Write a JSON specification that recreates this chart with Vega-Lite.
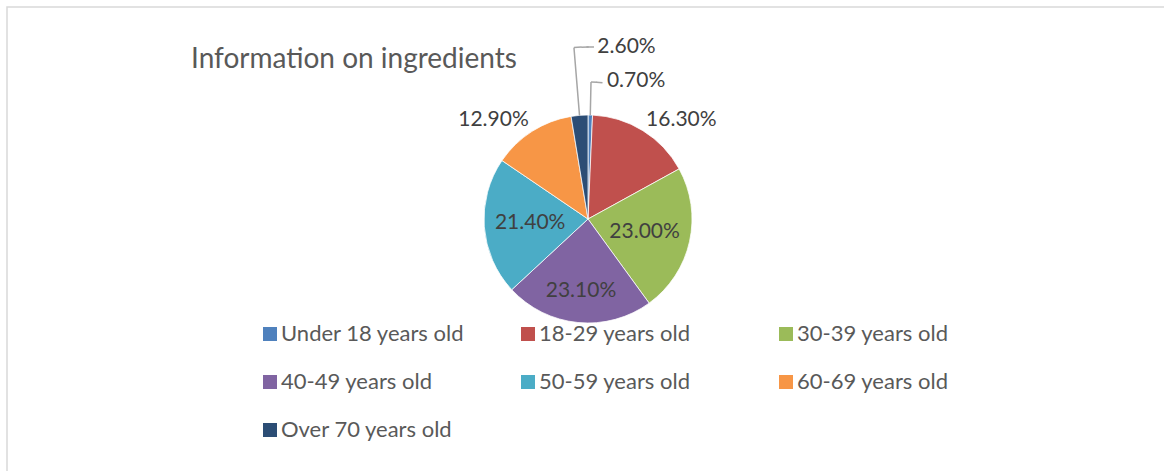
{
  "$schema": "https://vega.github.io/schema/vega-lite/v6.json",
  "width": 1170,
  "height": 480,
  "autosize": {"type": "none"},
  "padding": {"left": 7, "top": 7, "right": 0, "bottom": 0},
  "background": "white",
  "view": {"stroke": "#d9d9d9", "strokeWidth": 1.5, "fill": "white"},
  "config": {
    "view": {"stroke": "#d9d9d9", "strokeWidth": 1.5},
    "font": "Lato",
    "text": {"font": "Lato", "fontSize": 21, "color": "#404040"}
  },
  "title": {
    "text": "Information on ingredients",
    "anchor": "start",
    "frame": "group",
    "orient": "top",
    "offset": 0,
    "dx": 184,
    "dy": 89,
    "baseline": "alphabetic",
    "font": "Lato",
    "fontSize": 28,
    "fontWeight": "normal",
    "color": "#595959"
  },
  "data": {
    "values": [
      {"group": "Under 18 years old", "value": 0.007, "idx": 1},
      {"group": "18-29 years old", "value": 0.163, "idx": 2},
      {"group": "30-39 years old", "value": 0.23, "idx": 3},
      {"group": "40-49 years old", "value": 0.231, "idx": 4},
      {"group": "50-59 years old", "value": 0.214, "idx": 5},
      {"group": "60-69 years old", "value": 0.129, "idx": 6},
      {"group": "Over 70 years old", "value": 0.026, "idx": 7}
    ]
  },
  "encoding": {
    "theta": {"field": "value", "type": "quantitative", "stack": true},
    "order": {"field": "idx", "type": "quantitative"}
  },
  "layer": [
    {
      "mark": {"type": "arc", "outerRadius": 104, "x": 581, "y": 212, "stroke": "white", "strokeWidth": 0.75},
      "encoding": {
        "color": {
          "field": "group",
          "type": "nominal",
          "scale": {
            "domain": ["Under 18 years old", "18-29 years old", "30-39 years old", "40-49 years old", "50-59 years old", "60-69 years old", "Over 70 years old"],
            "range": ["#4F81BD", "#C0504D", "#9BBB59", "#8064A2", "#4BACC6", "#F79646", "#2C4D75"]
          },
          "legend": {
            "title": null,
            "orient": "none",
            "legendX": 252,
            "legendY": 316,
            "direction": "horizontal",
            "columns": 3,
            "gridAlign": "all",
            "columnPadding": 52,
            "rowPadding": 26,
            "padding": 0,
            "symbolType": "square",
            "symbolSize": 196,
            "symbolStrokeWidth": 0,
            "labelOffset": 0,
            "labelFont": "Lato",
            "labelFontSize": 22,
            "labelColor": "#595959",
            "labelLimit": 400
          }
        }
      }
    },
    {
      "transform": [{"stack": "value", "groupby": [], "sort": [{"field": "idx"}], "as": ["s0", "s1"]}],
      "mark": {"type": "arc", "x": 581, "y": 212, "innerRadius": 104, "outerRadius": 172, "thetaOffset": -0.0817, "theta2Offset": -0.0817, "fillOpacity": 0, "stroke": "#a6a6a6", "strokeWidth": 1.5},
      "encoding": {
        "theta": {"field": "s1", "type": "quantitative", "stack": null},
        "theta2": {"field": "s1"},
        "opacity": {"condition": {"test": "datum.group == 'Over 70 years old'", "value": 1}, "value": 0}
      }
    },
    {
      "transform": [{"stack": "value", "groupby": [], "sort": [{"field": "idx"}], "as": ["s0", "s1"]}],
      "mark": {"type": "arc", "x": 581, "y": 212, "innerRadius": 104, "outerRadius": 137, "thetaOffset": -0.022, "theta2Offset": -0.022, "fillOpacity": 0, "stroke": "#a6a6a6", "strokeWidth": 1.5},
      "encoding": {
        "theta": {"field": "s1", "type": "quantitative", "stack": null},
        "theta2": {"field": "s1"},
        "opacity": {"condition": {"test": "datum.group == 'Under 18 years old'", "value": 1}, "value": 0}
      }
    },
    {
      "mark": {"type": "arc", "x": 581, "y": 212, "innerRadius": 137, "outerRadius": 137, "thetaOffset": 0.022, "theta2Offset": 0.022, "fillOpacity": 0, "stroke": "#a6a6a6", "strokeWidth": 1.5},
      "encoding": {
        "opacity": {"condition": {"test": "datum.group == 'Under 18 years old'", "value": 1}, "value": 0}
      }
    },
    {
      "mark": {"type": "arc", "x": 581, "y": 212, "innerRadius": 137, "outerRadius": 137, "thetaOffset": 0.062, "theta2Offset": 0.062, "fillOpacity": 0, "stroke": "#a6a6a6", "strokeWidth": 1.5},
      "encoding": {
        "opacity": {"condition": {"test": "datum.group == 'Under 18 years old'", "value": 1}, "value": 0}
      }
    },
    {
      "mark": {"type": "arc", "x": 581, "y": 212, "innerRadius": 172, "outerRadius": 172, "thetaOffset": -0.0817, "theta2Offset": -0.0817, "fillOpacity": 0, "stroke": "#a6a6a6", "strokeWidth": 1.5},
      "encoding": {
        "opacity": {"condition": {"test": "datum.group == 'Under 18 years old'", "value": 1}, "value": 0}
      }
    },
    {
      "mark": {"type": "arc", "x": 581, "y": 212, "innerRadius": 172, "outerRadius": 172, "thetaOffset": -0.0397, "theta2Offset": -0.0397, "fillOpacity": 0, "stroke": "#a6a6a6", "strokeWidth": 1.5},
      "encoding": {
        "opacity": {"condition": {"test": "datum.group == 'Under 18 years old'", "value": 1}, "value": 0}
      }
    },
    {
      "mark": {"type": "arc", "x": 581, "y": 212, "innerRadius": 172, "outerRadius": 172, "thetaOffset": -0.0091, "theta2Offset": -0.0091, "fillOpacity": 0, "stroke": "#a6a6a6", "strokeWidth": 1.5},
      "encoding": {
        "opacity": {"condition": {"test": "datum.group == 'Under 18 years old'", "value": 1}, "value": 0}
      }
    },
    {
      "mark": {"type": "text", "radius": 58, "x": 581, "y": 212},
      "encoding": {
        "text": {"field": "value", "type": "quantitative", "format": ".2%"},
        "opacity": {"condition": {"test": "datum.group == '30-39 years old' || datum.group == '50-59 years old'", "value": 1}, "value": 0}
      }
    },
    {
      "mark": {"type": "text", "radius": 72, "x": 581, "y": 212},
      "encoding": {
        "text": {"field": "value", "type": "quantitative", "format": ".2%"},
        "opacity": {"condition": {"test": "datum.group == '40-49 years old'", "value": 1}, "value": 0}
      }
    },
    {
      "mark": {"type": "text", "radius": 110, "x": 581, "y": 212, "align": "left", "baseline": "alphabetic"},
      "encoding": {
        "text": {"field": "value", "type": "quantitative", "format": ".2%"},
        "opacity": {"condition": {"test": "datum.group == '18-29 years old'", "value": 1}, "value": 0}
      }
    },
    {
      "mark": {"type": "text", "radius": 110, "x": 581, "y": 212, "align": "right", "baseline": "alphabetic"},
      "encoding": {
        "text": {"field": "value", "type": "quantitative", "format": ".2%"},
        "opacity": {"condition": {"test": "datum.group == '60-69 years old'", "value": 1}, "value": 0}
      }
    },
    {
      "mark": {"type": "text", "radius": 132, "x": 581, "y": 212, "align": "left", "baseline": "alphabetic", "dx": 16},
      "encoding": {
        "text": {"field": "value", "type": "quantitative", "format": ".2%"},
        "opacity": {"condition": {"test": "datum.group == 'Under 18 years old'", "value": 1}, "value": 0}
      }
    },
    {
      "mark": {"type": "text", "radius": 167, "x": 581, "y": 212, "align": "left", "baseline": "alphabetic", "dx": 23},
      "encoding": {
        "text": {"field": "value", "type": "quantitative", "format": ".2%"},
        "opacity": {"condition": {"test": "datum.group == 'Over 70 years old'", "value": 1}, "value": 0}
      }
    }
  ]
}
